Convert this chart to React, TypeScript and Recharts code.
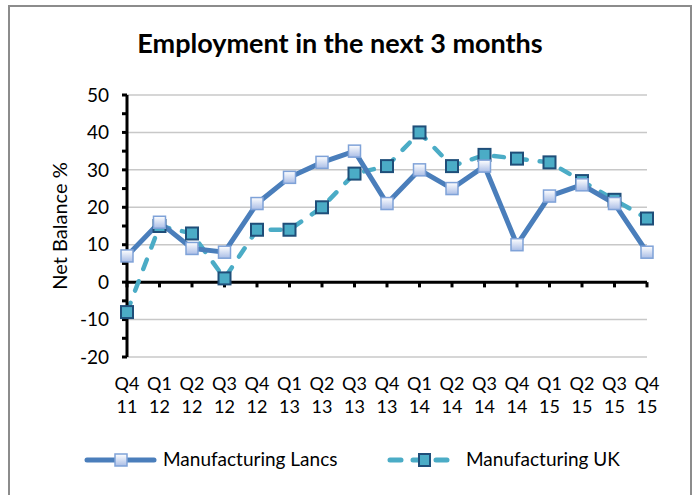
import React from "react";
import { LineChart, Line, XAxis, YAxis, ReferenceLine } from "recharts";

// quarter / year labels along the bottom
const quarters = ["Q4", "Q1", "Q2", "Q3", "Q4", "Q1", "Q2", "Q3", "Q4", "Q1", "Q2", "Q3", "Q4", "Q1", "Q2", "Q3", "Q4"];
const years = ["11", "12", "12", "12", "12", "13", "13", "13", "13", "14", "14", "14", "14", "15", "15", "15", "15"];

const lancs = [7, 16, 9, 8, 21, 28, 32, 35, 21, 30, 25, 31, 10, 23, 26, 21, 8];
const uk = [-8, 15, 13, 1, 14, 14, 20, 29, 31, 40, 31, 34, 33, 32, 27, 22, 17];

const yTicks = [-20, -15, -10, -5, 0, 5, 10, 15, 20, 25, 30, 35, 40, 45, 50];
const gridValues = [-20, -10, 10, 20, 30, 40, 50];

const data = quarters.map((q, i) => ({
  cat: `${q} ${years[i]}`,
  lancs: lancs[i],
  uk: uk[i],
}));

const FONT = "Lato, 'Liberation Sans', sans-serif";

const LancsDot = (props: any) => {
  const { cx, cy, index } = props;
  if (cx == null || cy == null) return null;
  return (
    <rect
      key={`l-${index}`}
      x={cx - 6}
      y={cy - 6}
      width={12}
      height={12}
      fill="url(#lancsFill)"
      stroke="#7fa2d8"
      strokeWidth={1.5}
    />
  );
};

const UkDot = (props: any) => {
  const { cx, cy, index } = props;
  if (cx == null || cy == null) return null;
  return (
    <rect
      key={`u-${index}`}
      x={cx - 6}
      y={cy - 6}
      width={12}
      height={12}
      fill="#4bacc6"
      stroke="#1f4e79"
      strokeWidth={2}
    />
  );
};

const XTick = (props: any) => {
  const { x, y, payload } = props;
  const [q, yr] = String(payload.value).split(" ");
  return (
    <text x={x} y={y} textAnchor="middle" fontSize={18} fill="#000" fontFamily={FONT}>
      <tspan x={x} dy={25}>{q}</tspan>
      <tspan x={x} dy={23}>{yr}</tspan>
    </text>
  );
};

const YLabel = (props: any) => {
  const { viewBox } = props;
  const cy = viewBox ? viewBox.y + viewBox.height / 2 : 226;
  return (
    <text
      x={59}
      y={cy}
      transform={`rotate(-90, 59, ${cy})`}
      textAnchor="middle"
      dominantBaseline="central"
      fontSize={20}
      fontFamily={FONT}
      fill="#000"
    >
      Net Balance %
    </text>
  );
};

const LegendBox = () => (
  <svg width={698} height={30} style={{ position: "absolute", left: 0, top: 445 }}>
    <defs>
      <linearGradient id="lancsFillLeg" x1="0" y1="0" x2="0" y2="1">
        <stop offset="0%" stopColor="#ffffff" />
        <stop offset="100%" stopColor="#a9bde6" />
      </linearGradient>
    </defs>
    <line x1={87} y1={15} x2={154} y2={15} stroke="#4a7ebb" strokeWidth={5} strokeLinecap="round" />
    <rect x={115} y={9} width={12} height={12} fill="url(#lancsFillLeg)" stroke="#7fa2d8" strokeWidth={1.5} />
    <text x={163} y={21} fontSize={19} fontFamily={FONT} fill="#000">
      Manufacturing Lancs
    </text>
    <line
      x1={390}
      y1={15}
      x2={449}
      y2={15}
      stroke="#4bacc6"
      strokeWidth={5}
      strokeDasharray="11 12"
      strokeLinecap="round"
    />
    <rect x={419} y={9} width={11} height={12} fill="#4bacc6" stroke="#1f4e79" strokeWidth={2} />
    <text x={466} y={21} fontSize={19} fontFamily={FONT} fill="#000">
      Manufacturing UK
    </text>
  </svg>
);

export default function App() {
  return (
    <div
      style={{
        position: "absolute",
        left: 0,
        top: 0,
        width: 698,
        height: 495,
        overflow: "hidden",
        background: "#fff",
        fontFamily: FONT,
      }}
    >
      <div
        style={{
          position: "absolute",
          left: 8,
          top: 5,
          width: 680,
          height: 600,
          border: "2px solid #8c8c8c",
        }}
      />
      <div
        style={{
          position: "absolute",
          left: 0,
          top: 26,
          width: 680,
          textAlign: "center",
          fontSize: 27,
          fontWeight: 700,
          color: "#000",
        }}
      >
        Employment in the next 3 months
      </div>
      <div style={{ position: "absolute", left: 0, top: 0 }}>
        <LineChart
          width={698}
          height={495}
          data={data}
          margin={{ top: 95, right: 51, bottom: 78, left: 87 }}
        >
          <defs>
            <linearGradient id="lancsFill" x1="0" y1="0" x2="0" y2="1">
              <stop offset="0%" stopColor="#ffffff" />
              <stop offset="100%" stopColor="#a9bde6" />
            </linearGradient>
          </defs>
          {gridValues.map((v) => (
            <ReferenceLine key={`g${v}`} y={v} stroke="#c8c8c8" strokeWidth={1.5} />
          ))}
          <XAxis
            dataKey="cat"
            axisLine={false}
            tickLine={false}
            interval={0}
            tick={<XTick />}
            height={60}
          />
          <YAxis
            domain={[-20, 50]}
            ticks={yTicks}
            interval={0}
            width={40}
            axisLine={{ stroke: "#000", strokeWidth: 3 }}
            tickLine={{ stroke: "#000", strokeWidth: 3 }}
            tickSize={5}
            tickMargin={13}
            tickFormatter={(v: number) => (v % 10 === 0 ? String(v) : "")}
            tick={{ fill: "#000", fontSize: 19, fontFamily: FONT }}
            label={<YLabel />}
          />
          <ReferenceLine y={0} stroke="#000" strokeWidth={3} />
          {data.map((d, i) => (
            <ReferenceLine
              key={`t${i}`}
              segment={[
                { x: d.cat, y: 0 },
                { x: d.cat, y: -1.4 },
              ]}
              stroke="#000"
              strokeWidth={3}
            />
          ))}
          <Line
            type="linear"
            dataKey="uk"
            stroke="#4bacc6"
            strokeWidth={4.5}
            strokeDasharray="10 13"
            strokeLinecap="round"
            dot={<UkDot />}
            isAnimationActive={false}
          />
          <Line
            type="linear"
            dataKey="lancs"
            stroke="#4a7ebb"
            strokeWidth={5}
            dot={<LancsDot />}
            isAnimationActive={false}
          />
        </LineChart>
      </div>
      <LegendBox />
    </div>
  );
}
